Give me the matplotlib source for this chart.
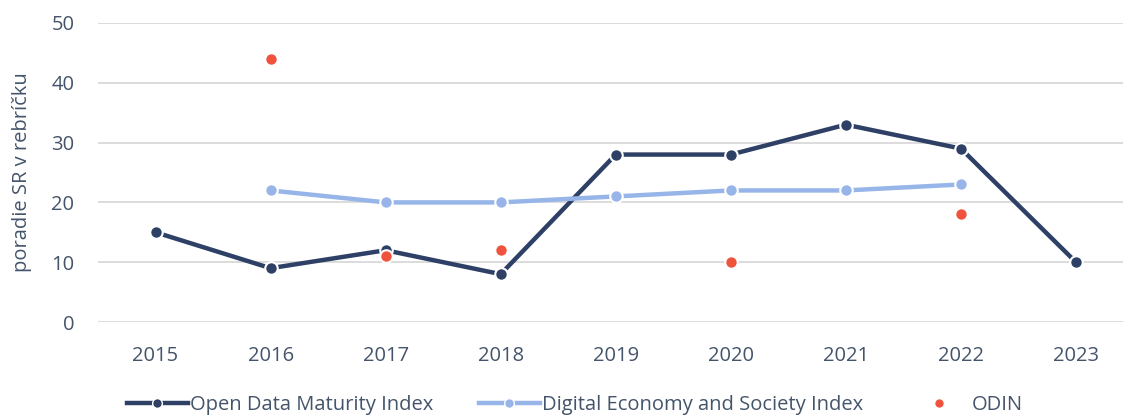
import numpy as np
import matplotlib
matplotlib.use("Agg")
import matplotlib.pyplot as plt
from matplotlib.lines import Line2D

years = ["2015", "2016", "2017", "2018", "2019", "2020", "2021", "2022", "2023"]
odmi = [15, 9, 12, 8, 28, 28, 33, 29, 10]
desi = [np.nan, 22, 20, 20, 21, 22, 22, 23, np.nan]
odin = [np.nan, 44, 11, 12, np.nan, 10, np.nan, 18, np.nan]

NAVY = "#2E4066"
LIGHT = "#97B5E8"
RED = "#F0533D"
TXT = "#44546A"

plt.rcParams["font.family"] = ["Open Sans", "DejaVu Sans"]

fig = plt.figure(figsize=(11.23, 4.16), dpi=100)
ax = fig.add_axes([98 / 1123, 94 / 416, 1 - 98 / 1123, 299 / 416])

x = np.arange(len(years))
ax.plot(x, odmi, color=NAVY, lw=3.2, marker="o", ms=9, mfc=NAVY,
        mec="white", mew=1.5, zorder=3, solid_joinstyle="round")
ax.plot(x, desi, color=LIGHT, lw=3.2, marker="o", ms=9, mfc=LIGHT,
        mec="white", mew=1.5, zorder=4)
ax.plot(x, odin, ls="none", marker="o", ms=9, mfc=RED,
        mec="white", mew=1.5, zorder=5)

ax.set_xlim(-0.5, 8 + 47 / 115)
ax.set_ylim(0, 50)
ax.set_yticks(range(0, 51, 10))
ax.set_xticks(x)
ax.set_xticklabels(years)
ax.yaxis.grid(True, color="#D9D9D9", lw=1.3)
ax.set_axisbelow(True)
for s in ax.spines.values():
    s.set_visible(False)
ax.tick_params(length=0, labelsize=14.5, labelcolor=TXT)
ax.tick_params(axis="x", pad=17)
ax.tick_params(axis="y", pad=17)
ax.set_ylabel("poradie SR v rebríčku", fontsize=14.5, color=TXT, labelpad=14)

handles = [
    Line2D([], [], color=NAVY, lw=3.2, marker="o", ms=7, mfc=NAVY, mec="white", mew=1),
    Line2D([], [], color=LIGHT, lw=3.2, marker="o", ms=7, mfc=LIGHT, mec="white", mew=1),
    Line2D([], [], ls="none", marker="o", ms=7, mfc=RED, mec="white", mew=1),
]
labels = ["Open Data Maturity Index", "Digital Economy and Society Index", "ODIN"]
fig.legend(handles, labels, loc="center", bbox_to_anchor=(0.512, 0.027), ncol=3,
           frameon=False, fontsize=14.5, labelcolor=TXT, handlelength=3.0,
           handletextpad=0.1, columnspacing=2.3)

fig.savefig("out.png", dpi=100)
